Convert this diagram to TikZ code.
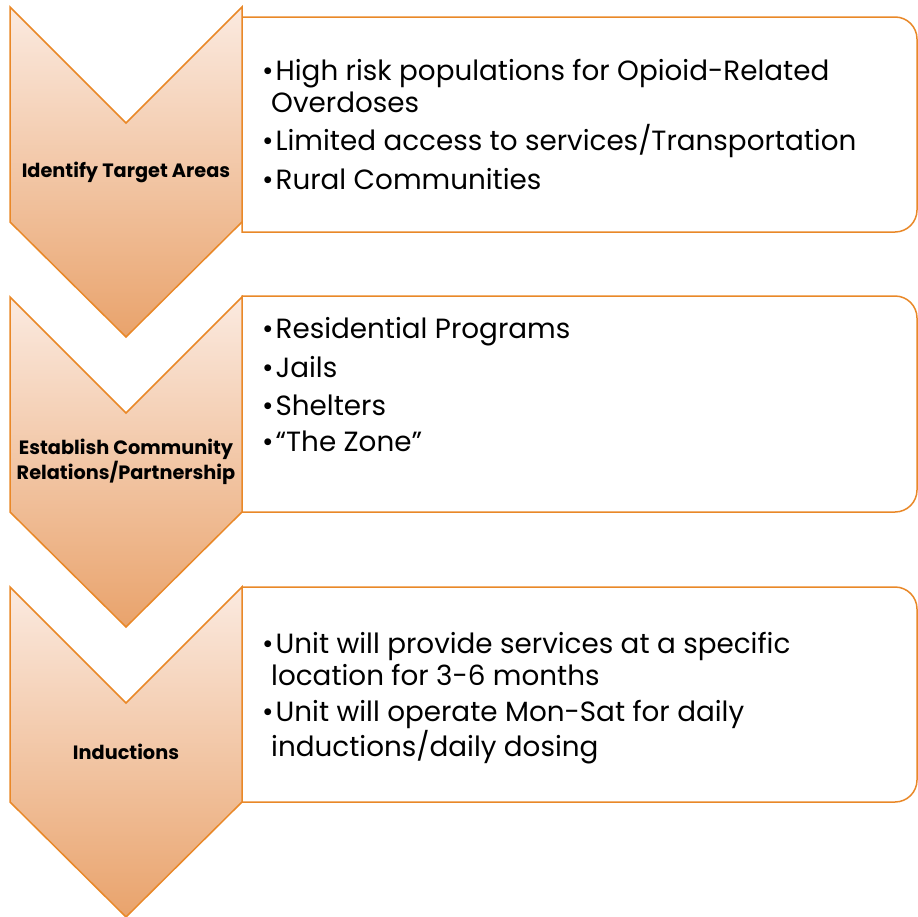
\documentclass[tikz,border=0pt]{standalone}
\usepackage{fontspec}
\setmainfont{Poppins}
\definecolor{myorange}{RGB}{233,136,40}
\definecolor{mylight}{RGB}{251,234,224}
\definecolor{mydark}{RGB}{233,163,108}
\newcommand{\bul}{\textbullet\hspace{2pt}}
\begin{document}
\begin{tikzpicture}[x=1pt,y=-1pt,
  chev/.style={draw=myorange,line width=1.5pt,top color=mylight,bottom color=mydark},
  itembox/.style={draw=myorange,line width=1.5pt,fill=white},
  itemtxt/.style={font=\fontsize{27.8}{32}\selectfont,anchor=base west,align=left,inner sep=0pt},
  steplbl/.style={font=\fontsize{19.3}{23}\selectfont\bfseries,align=center,inner sep=0pt}]
  \useasboundingbox (0,0) rectangle (918,916);
  % boxes on the right
  \foreach \ty/\tb in {17/232,296/512,587/802} {
    \draw[itembox] (242,\tb) -- (242,\ty) [rounded corners=22pt] -- (917,\ty) -- (917,\tb) [sharp corners] -- (242,\tb) -- cycle;}
  % chevrons
  \foreach \ty in {7,297,587} {
    \draw[chev] (10,\ty) -- (126,\ty+116) -- (242,\ty) -- (242,\ty+215)
      -- (126,\ty+330) -- (10,\ty+215) -- cycle;}
  \node[steplbl] (target) at (126,172) {Identify Target Areas};
  \node[steplbl] (community) at (126,462) {Establish Community\\Relations/Partnership};
  \node[steplbl] (induct) at (126,752) {Inductions};
  % first box
  \node[itemtxt] (risk) at (262,112) {\bul High risk populations for Opioid-Related\\\hspace*{9pt}Overdoses};
  \node[itemtxt] (access) at (262,150) {\bul Limited access to services/Transportation};
  \node[itemtxt] (rural) at (262,189) {\bul Rural Communities};
  % second box
  \node[itemtxt] (resid) at (262,338) {\bul Residential Programs};
  \node[itemtxt] (jails) at (262,377) {\bul Jails};
  \node[itemtxt] (shelt) at (262,415) {\bul Shelters};
  \node[itemtxt] (zone) at (262,451) {\bul ``The Zone''};
  % third box
  \node[itemtxt] (unit) at (262,685) {\bul Unit will provide services at a specific\\\hspace*{9pt}location for 3-6 months};
  \node[itemtxt] (oper) at (262,756) {\bul Unit will operate Mon-Sat for daily\\\hspace*{9pt}inductions/daily dosing};
\end{tikzpicture}
\end{document}
